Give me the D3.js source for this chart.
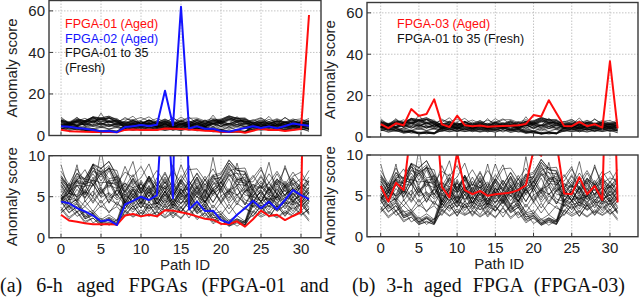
<!DOCTYPE html>
<html>
<head>
<meta charset="utf-8">
<script src="https://cdn.jsdelivr.net/npm/d3@7"></script>
<style>
  body { margin: 0; background: #fff; }
  svg { display: block; }
</style>
</head>
<body>
<div id="root"></div>
<script>
// path ids on the x axis
const pathIds = d3.range(32);
const xTicks = [0, 5, 10, 15, 20, 25, 30];
const topYTicks = [0, 20, 40, 60];
const bottomYTicks = [0, 5, 10];

// aged FPGAs
const fpga01Aged = [2.8, 2.1, 1.95, 1.75, 1.65, 1.65, 1.65, 1.6, 2.7, 2.9, 2.6, 2.8, 2.6, 3.35, 3.3, 3.1,
  2.9, 2.6, 2.3, 2.2, 1.7, 1.65, 2.0, 1.35, 2.25, 3.3, 2.65, 2.8, 2.15, 2.65, 3.1, 58];
const fpga02Aged = [4.4, 4.2, 3.6, 3.2, 2.7, 2.0, 2.15, 1.55, 4.05, 4.5, 5.0, 4.6, 5.2, 21.5, 4.8, 62,
  3.45, 4.4, 3.25, 3.3, 2.15, 1.8, 2.8, 3.6, 4.5, 3.6, 4.4, 3.45, 4.6, 5.8, 5.2, 4.7];
const fpga03Aged = [6.2, 4.3, 6.6, 5.7, 13.5, 10.2, 11.1, 18.2, 6.1, 4.8, 10.3, 5.7, 5.2, 5.6, 5.0, 5.2,
  5.3, 5.4, 5.7, 6.3, 10.6, 9.9, 17.8, 11.5, 5.3, 5.2, 7.3, 5.2, 6.2, 4.5, 36.6, 4.2];

// FPGA-01 to 35 (fresh)
const freshScores = [
  [5.9,4.6,6.4,6.2,8.1,7.4,8.6,6.3, 4.2,5.9,4.6,6.3,4.1,5.6,3.9,6.0, 4.4,6.1,4.3,6.6,7.2,8.8,7.0,7.4, 4.5,5.6,4.1,5.9,4.8,6.2,4.3,5.5],
  [4.8,3.4,4.1,2.5,2.9,1.8,2.3,1.7, 4.4,3.5,4.9,3.2,4.6,3.3,4.5,3.1, 4.6,3.2,3.9,2.4,2.6,1.6,2.1,1.8, 4.3,3.3,4.7,3.4,4.4,3.2,4.6,3.0],
  [8.9,5.6,6.4,5.2,7.4,5.3,6.9,5.1, 7.0,9.3,5.4,7.5,5.2,6.8,5.0,7.1, 5.6,7.4,5.2,6.9,5.5,7.2,5.1,6.4, 7.3,8.6,5.4,6.8,5.0,7.2,5.3,6.9],
  [4.6,5.5,8.9,4.4,5.7,4.2,5.4,3.9, 5.8,4.1,6.2,4.5,5.7,4.0,6.1,4.6, 5.5,3.8,5.9,4.3,6.0,4.2,5.3,4.0, 5.6,4.4,6.0,3.9,6.3,4.5,5.2,4.1],
  [6.8,5.4,7.1,6.6,8.9,7.9,8.4,8.2, 5.0,6.5,5.2,6.9,4.9,6.4,4.8,6.3, 5.1,6.7,5.0,7.0,7.4,9.1,8.2,8.0, 5.2,6.3,4.9,6.6,5.1,6.5,5.0,6.2],
  [3.1,3.9,2.6,3.2,1.8,2.4,1.5,2.2, 2.8,3.9,2.6,4.0,2.5,3.8,2.4,3.6, 2.9,3.7,2.3,2.9,1.6,2.2,1.4,2.1, 2.7,3.8,2.5,3.9,2.6,3.8,2.7,3.5],
  [5.2,4.3,5.9,4.8,6.6,4.9,5.5,4.6, 5.3,4.4,6.8,4.2,6.1,4.5,5.8,4.1, 5.7,5.0,4.4,6.0,4.3,5.8,6.3,4.0, 5.9,4.3,6.2,4.5,5.3,6.0,4.6,6.1],
  [7.6,6.2,7.9,6.4,7.8,6.3,8.2,6.0, 8.7,6.5,7.3,9.0,6.2,7.8,6.0,7.6, 6.3,7.9,6.4,7.7,6.1,7.5,7.9,6.3, 7.6,6.1,7.8,6.4,8.5,6.5,7.2,6.8],
  [4.5,5.4,5.0,6.9,6.6,8.2,6.9,7.1, 3.9,5.4,4.0,5.6,3.8,5.3,3.6,5.2, 4.0,5.5,3.9,5.8,6.4,8.0,6.8,6.7, 4.1,4.8,3.8,5.3,4.4,5.4,4.2,5.0],
  [4.4,3.0,3.8,2.3,2.7,1.6,2.2,1.6, 4.0,3.1,4.4,2.8,3.8,2.7,4.1,3.1, 4.3,2.9,3.6,2.1,2.5,1.5,2.0,1.6, 3.9,2.9,4.3,3.2,3.9,2.9,4.2,2.8],
  [6.5,5.0,6.9,5.3,7.0,5.4,7.1,5.2, 6.7,5.1,7.0,5.4,7.3,5.5,8.9,5.2, 6.9,5.2,7.1,5.3,6.8,5.2,7.0,5.5, 6.5,5.2,6.8,5.3,6.9,5.2,6.8,5.4],
  [3.0,3.9,3.1,3.8,2.9,3.9,3.2,3.8, 2.6,3.9,2.5,4.0,2.7,4.1,2.6,3.8, 2.4,3.9,2.6,4.0,2.8,4.1,2.7,3.8, 2.6,4.0,2.5,3.9,2.7,4.1,2.8,3.5],
  [7.5,6.0,7.8,7.2,8.9,8.4,9.3,7.6, 5.8,7.3,5.9,7.5,5.7,7.2,5.5,7.1, 5.9,7.4,5.8,7.6,7.9,9.4,8.4,8.5, 6.0,6.9,5.7,7.1,6.4,7.0,6.2,7.0],
  [5.3,3.8,4.4,2.7,3.1,2.0,2.5,2.0, 4.7,4.0,5.2,3.5,4.9,3.8,4.8,3.7, 5.0,3.6,4.1,2.7,2.9,1.9,2.3,1.9, 4.6,4.1,5.1,3.8,4.6,4.1,4.8,3.5],
  [5.0,6.6,4.8,6.4,4.9,10.8,5.0,5.8, 5.2,6.0,5.4,6.1,5.3,6.3,5.0,6.7, 4.9,6.4,4.8,9.8,5.1,5.7,5.2,6.0, 5.1,5.9,9.2,5.0,6.4,4.8,6.2,5.3],
  [4.9,3.9,4.8,3.8,4.9,3.7,4.7,4.1, 3.5,5.1,3.6,5.2,3.8,5.3,3.7,5.0, 5.3,3.7,5.2,3.6,5.1,3.5,5.0,4.3, 3.8,5.2,3.7,5.1,3.5,5.0,3.6,4.9],
  [6.4,4.9,6.7,6.5,8.2,7.7,8.5,6.8, 4.7,6.2,4.8,6.4,4.6,6.1,4.4,6.0, 4.8,6.3,4.7,6.5,6.8,8.6,7.3,7.1, 4.9,5.5,4.4,6.3,5.2,6.0,5.0,5.8],
  [3.7,2.5,3.2,2.0,2.4,1.5,1.9,1.5, 3.4,2.6,3.4,2.7,3.2,2.5,3.2,2.4, 3.6,2.4,3.1,1.9,2.3,1.4,1.8,1.5, 3.3,2.7,3.2,2.5,3.3,2.7,3.4,2.2],
  [7.1,6.0,6.9,6.5,7.0,6.7,6.8,6.4, 5.6,7.2,5.5,7.3,5.8,7.4,5.7,7.1, 8.8,6.0,7.5,5.9,7.3,5.6,7.2,6.6, 5.9,7.4,5.8,7.2,5.6,7.3,6.0,7.4],
  [4.7,5.8,5.0,5.6,5.1,6.2,4.3,6.0, 4.5,5.9,4.2,5.8,4.6,6.1,4.2,5.7, 6.0,4.4,5.8,4.3,5.9,4.5,6.1,4.6, 4.3,5.8,4.5,6.0,4.4,5.7,6.1,4.5],
  [7.0,5.5,7.3,7.1,8.5,8.0,8.8,7.1, 5.4,6.9,5.5,7.1,5.3,6.8,5.1,6.7, 5.5,7.0,5.4,7.2,7.3,9.1,7.8,7.7, 5.6,6.2,5.2,6.9,6.1,6.5,5.8,6.6],
  [5.0,3.6,4.2,2.5,3.0,1.8,2.4,1.8, 4.5,3.8,4.3,4.0,4.2,3.7,4.1,3.6, 4.8,3.4,3.9,2.4,2.8,1.7,2.3,1.8, 4.4,3.9,4.2,3.7,4.3,4.0,4.5,3.1],
  [7.3,6.3,7.0,8.3,6.4,7.8,6.1,7.6, 6.2,7.7,5.9,7.5,6.3,8.0,6.0,8.9, 6.4,7.8,6.1,7.5,5.9,7.7,6.3,7.9, 6.1,7.6,6.0,7.8,6.2,7.5,8.0,6.3],
  [3.3,4.7,3.1,4.5,3.2,4.6,3.0,4.4, 3.1,4.5,2.9,4.4,3.2,4.6,3.0,4.3, 4.5,3.1,4.4,3.0,4.3,2.9,4.2,3.5, 3.1,4.4,3.0,4.3,2.9,4.5,3.2,4.4],
  [4.1,4.7,4.5,6.4,6.3,7.9,6.6,6.7, 3.5,5.0,3.6,5.2,3.4,4.9,3.3,4.8, 3.6,5.1,3.5,5.4,6.0,7.8,6.5,6.4, 3.7,4.4,3.4,5.0,4.1,4.5,3.9,4.7],
  [5.7,4.2,4.6,3.0,3.3,2.2,2.8,2.1, 5.1,4.5,4.9,4.7,4.8,4.3,4.7,4.2, 5.4,4.0,4.5,2.9,3.2,2.1,2.7,2.0, 5.0,4.5,4.8,4.3,4.9,4.6,5.1,3.7],
  [6.2,4.7,6.4,4.9,6.5,5.0,6.7,4.8, 6.3,4.8,6.6,5.1,6.8,5.0,6.5,4.9, 6.4,4.9,6.6,5.1,6.3,4.8,6.5,5.2, 5.0,6.7,5.2,4.9,6.5,5.0,6.3,5.1],
  [8.1,6.5,8.4,6.8,8.6,6.9,8.5,6.6, 8.0,7.4,8.7,6.8,8.2,6.6,8.1,6.7, 8.3,8.4,7.0,8.4,6.7,8.1,8.5,6.9, 6.8,8.3,6.7,8.1,6.5,8.0,6.6,8.2],
  [4.8,5.4,5.2,7.1,7.0,8.5,7.2,7.4, 4.2,5.7,4.3,5.9,4.1,5.6,3.9,5.5, 4.3,5.8,4.2,6.1,6.6,8.4,7.1,6.9, 4.4,5.0,4.7,4.9,5.8,4.2,5.6,4.4],
  [3.5,2.3,3.1,1.8,2.4,1.5,1.8,1.5, 3.2,2.5,3.1,2.6,3.1,2.4,3.0,2.3, 3.5,2.2,3.0,1.7,2.3,1.4,2.0,1.5, 3.1,2.5,3.0,2.4,3.1,2.6,3.2,2.0],
  [4.4,5.0,4.6,5.6,4.2,5.7,4.8,5.3, 3.9,5.4,4.1,5.6,4.2,5.7,4.0,5.5, 4.1,5.6,4.3,5.8,4.2,5.5,4.0,5.7, 4.3,5.8,4.1,5.4,4.0,5.5,4.2,5.6],
  [6.8,5.3,7.1,5.5,9.0,5.7,6.4,6.0, 6.6,6.1,6.5,5.9,6.4,6.0,6.7,5.3, 6.9,5.5,7.1,5.6,6.8,5.4,9.1,5.7, 6.5,6.0,6.6,5.3,8.8,5.8,6.5,5.9],
  [7.3,5.8,7.5,7.2,9.0,8.5,9.3,7.4, 5.6,7.1,5.7,7.3,5.5,7.0,5.3,6.9, 5.7,7.2,5.6,7.4,7.7,9.5,8.2,8.1, 5.8,6.4,5.4,7.1,6.3,6.7,6.0,6.8],
  [4.5,3.1,3.8,2.3,2.8,1.7,2.3,1.6, 4.1,3.4,3.9,3.6,3.8,3.3,3.7,3.2, 4.4,3.0,3.6,2.1,2.6,1.6,2.2,1.6, 4.0,3.5,3.9,3.3,4.0,3.5,4.1,2.9],
  [4.5,6.1,4.3,5.9,4.4,6.0,4.2,5.8, 4.3,5.9,4.4,6.0,4.1,5.7,4.3,5.9, 4.6,6.1,4.4,5.8,4.5,6.0,4.3,5.7, 5.9,4.4,6.0,4.6,6.1,4.3,5.8,4.4]
];

const RED = '#ff0d0d';
const BLUE = '#1414ff';

const svg = d3.select('#root').append('svg')
  .attr('width', 640)
  .attr('height', 302)
  .style('font-family', '"Liberation Sans", Arial, sans-serif');

const panels = [
  { id: 'tl', left: 49, right: 321, x0: 61, x31: 309, top: 0.5, base: 135.5, yMax: 65, yTicks: topYTicks, gridY: [20, 40, 60], aged: [[fpga01Aged, RED], [fpga02Aged, BLUE]], xLabels: false },
  { id: 'bl', left: 49, right: 321, x0: 61, x31: 309, top: 155.7, base: 237.7, yMax: 10, yTicks: bottomYTicks, gridY: [5], aged: [[fpga01Aged, RED], [fpga02Aged, BLUE]], xLabels: true },
  { id: 'tr', left: 367, right: 638, x0: 380.7, x31: 617.6, top: 2.5, base: 137, yMax: 65, yTicks: topYTicks, gridY: [20, 40, 60], aged: [[fpga03Aged, RED]], xLabels: false },
  { id: 'br', left: 367, right: 638, x0: 380.7, x31: 617.6, top: 155, base: 236.7, yMax: 10, yTicks: bottomYTicks, gridY: [5], aged: [[fpga03Aged, RED]], xLabels: true }
];

panels.forEach((p) => {
  const x = d3.scaleLinear().domain([0, 31]).range([p.x0, p.x31]);
  const y = d3.scaleLinear().domain([0, p.yMax]).range([p.base, p.top]);

  const g = svg.append('g');

  g.append('clipPath').attr('id', 'clip-' + p.id)
    .append('rect')
    .attr('x', p.left).attr('y', p.top)
    .attr('width', p.right - p.left).attr('height', p.base - p.top);

  // dotted grid
  g.append('g').selectAll('line').data(xTicks).enter().append('line')
    .attr('x1', (d) => x(d)).attr('x2', (d) => x(d))
    .attr('y1', p.top).attr('y2', p.base)
    .attr('stroke', '#c4c4c4').attr('stroke-width', 1)
    .attr('stroke-dasharray', '1.5,1.5');
  g.append('g').selectAll('line').data(p.gridY).enter().append('line')
    .attr('x1', p.left).attr('x2', p.right)
    .attr('y1', (d) => y(d)).attr('y2', (d) => y(d))
    .attr('stroke', '#c4c4c4').attr('stroke-width', 1)
    .attr('stroke-dasharray', '1.5,1.5');

  const line = d3.line().x((d, i) => x(pathIds[i])).y((d) => y(d));

  const plot = g.append('g').attr('clip-path', `url(#clip-${p.id})`);
  plot.selectAll('path.fresh').data(freshScores).enter().append('path')
    .attr('class', 'fresh')
    .attr('d', line)
    .attr('fill', 'none')
    .attr('stroke', '#000')
    .attr('stroke-opacity', 0.9)
    .attr('stroke-width', 0.6);

  p.aged.forEach(([vals, col]) => {
    plot.append('path')
      .attr('d', line(vals))
      .attr('fill', 'none')
      .attr('stroke', col)
      .attr('stroke-width', 2)
      .attr('stroke-linejoin', 'round');
  });

  // frame
  g.append('rect')
    .attr('x', p.left).attr('y', p.top)
    .attr('width', p.right - p.left).attr('height', p.base - p.top)
    .attr('fill', 'none').attr('stroke', '#3a3a3a').attr('stroke-width', 1.4);

  // inward ticks
  g.append('g').selectAll('line').data(xTicks).enter().append('line')
    .attr('x1', (d) => x(d)).attr('x2', (d) => x(d))
    .attr('y1', p.base).attr('y2', p.base - 4)
    .attr('stroke', '#3a3a3a').attr('stroke-width', 1);
  g.append('g').selectAll('line').data(p.yTicks).enter().append('line')
    .attr('x1', p.left).attr('x2', p.left + 4)
    .attr('y1', (d) => y(d)).attr('y2', (d) => y(d))
    .attr('stroke', '#3a3a3a').attr('stroke-width', 1);

  // y tick labels
  g.append('g').selectAll('text').data(p.yTicks).enter().append('text')
    .attr('x', p.left - 4)
    .attr('y', (d) => y(d))
    .attr('dy', '0.36em')
    .attr('text-anchor', 'end')
    .attr('font-size', '15px')
    .attr('fill', '#222')
    .text((d) => d);

  // y axis label
  g.append('text')
    .attr('transform', `translate(${p.left - 32}, ${(p.top + p.base) / 2}) rotate(-90)`)
    .attr('text-anchor', 'middle')
    .attr('font-size', '15px')
    .attr('fill', '#222')
    .text('Anomaly score');

  if (p.xLabels) {
    g.append('g').selectAll('text').data(xTicks).enter().append('text')
      .attr('x', (d) => x(d))
      .attr('y', p.base + 16)
      .attr('text-anchor', 'middle')
      .attr('font-size', '15px')
      .attr('fill', '#222')
      .text((d) => d);
    g.append('text')
      .attr('x', (p.x0 + p.x31) / 2)
      .attr('y', p.base + 32)
      .attr('text-anchor', 'middle')
      .attr('font-size', '15px')
      .attr('fill', '#222')
      .text('Path ID');
  }
});

// legends
const legendLeft = [['FPGA-01 (Aged)', RED], ['FPGA-02 (Aged)', BLUE], ['FPGA-01 to 35', '#111'], ['(Fresh)', '#111']];
svg.append('g').selectAll('text').data(legendLeft).enter().append('text')
  .attr('x', 65).attr('y', (d, i) => 28 + i * 14.5)
  .attr('font-size', '12.5px')
  .attr('fill', (d) => d[1])
  .text((d) => d[0]);

const legendRight = [['FPGA-03 (Aged)', RED], ['FPGA-01 to 35 (Fresh)', '#111']];
svg.append('g').selectAll('text').data(legendRight).enter().append('text')
  .attr('x', 397).attr('y', (d, i) => 28 + i * 15)
  .attr('font-size', '12.5px')
  .attr('fill', (d) => d[1])
  .text((d) => d[0]);

// captions
svg.append('text')
  .attr('x', 0).attr('y', 292)
  .attr('font-family', '"Liberation Serif", "Times New Roman", serif')
  .attr('font-size', '20px')
  .attr('word-spacing', '9px')
  .attr('fill', '#111')
  .text('(a) 6-h aged FPGAs (FPGA-01 and');

svg.append('text')
  .attr('x', 352).attr('y', 292)
  .attr('font-family', '"Liberation Serif", "Times New Roman", serif')
  .attr('font-size', '20px')
  .attr('word-spacing', '6px')
  .attr('fill', '#111')
  .text('(b) 3-h aged FPGA (FPGA-03)');
</script>
</body>
</html>
